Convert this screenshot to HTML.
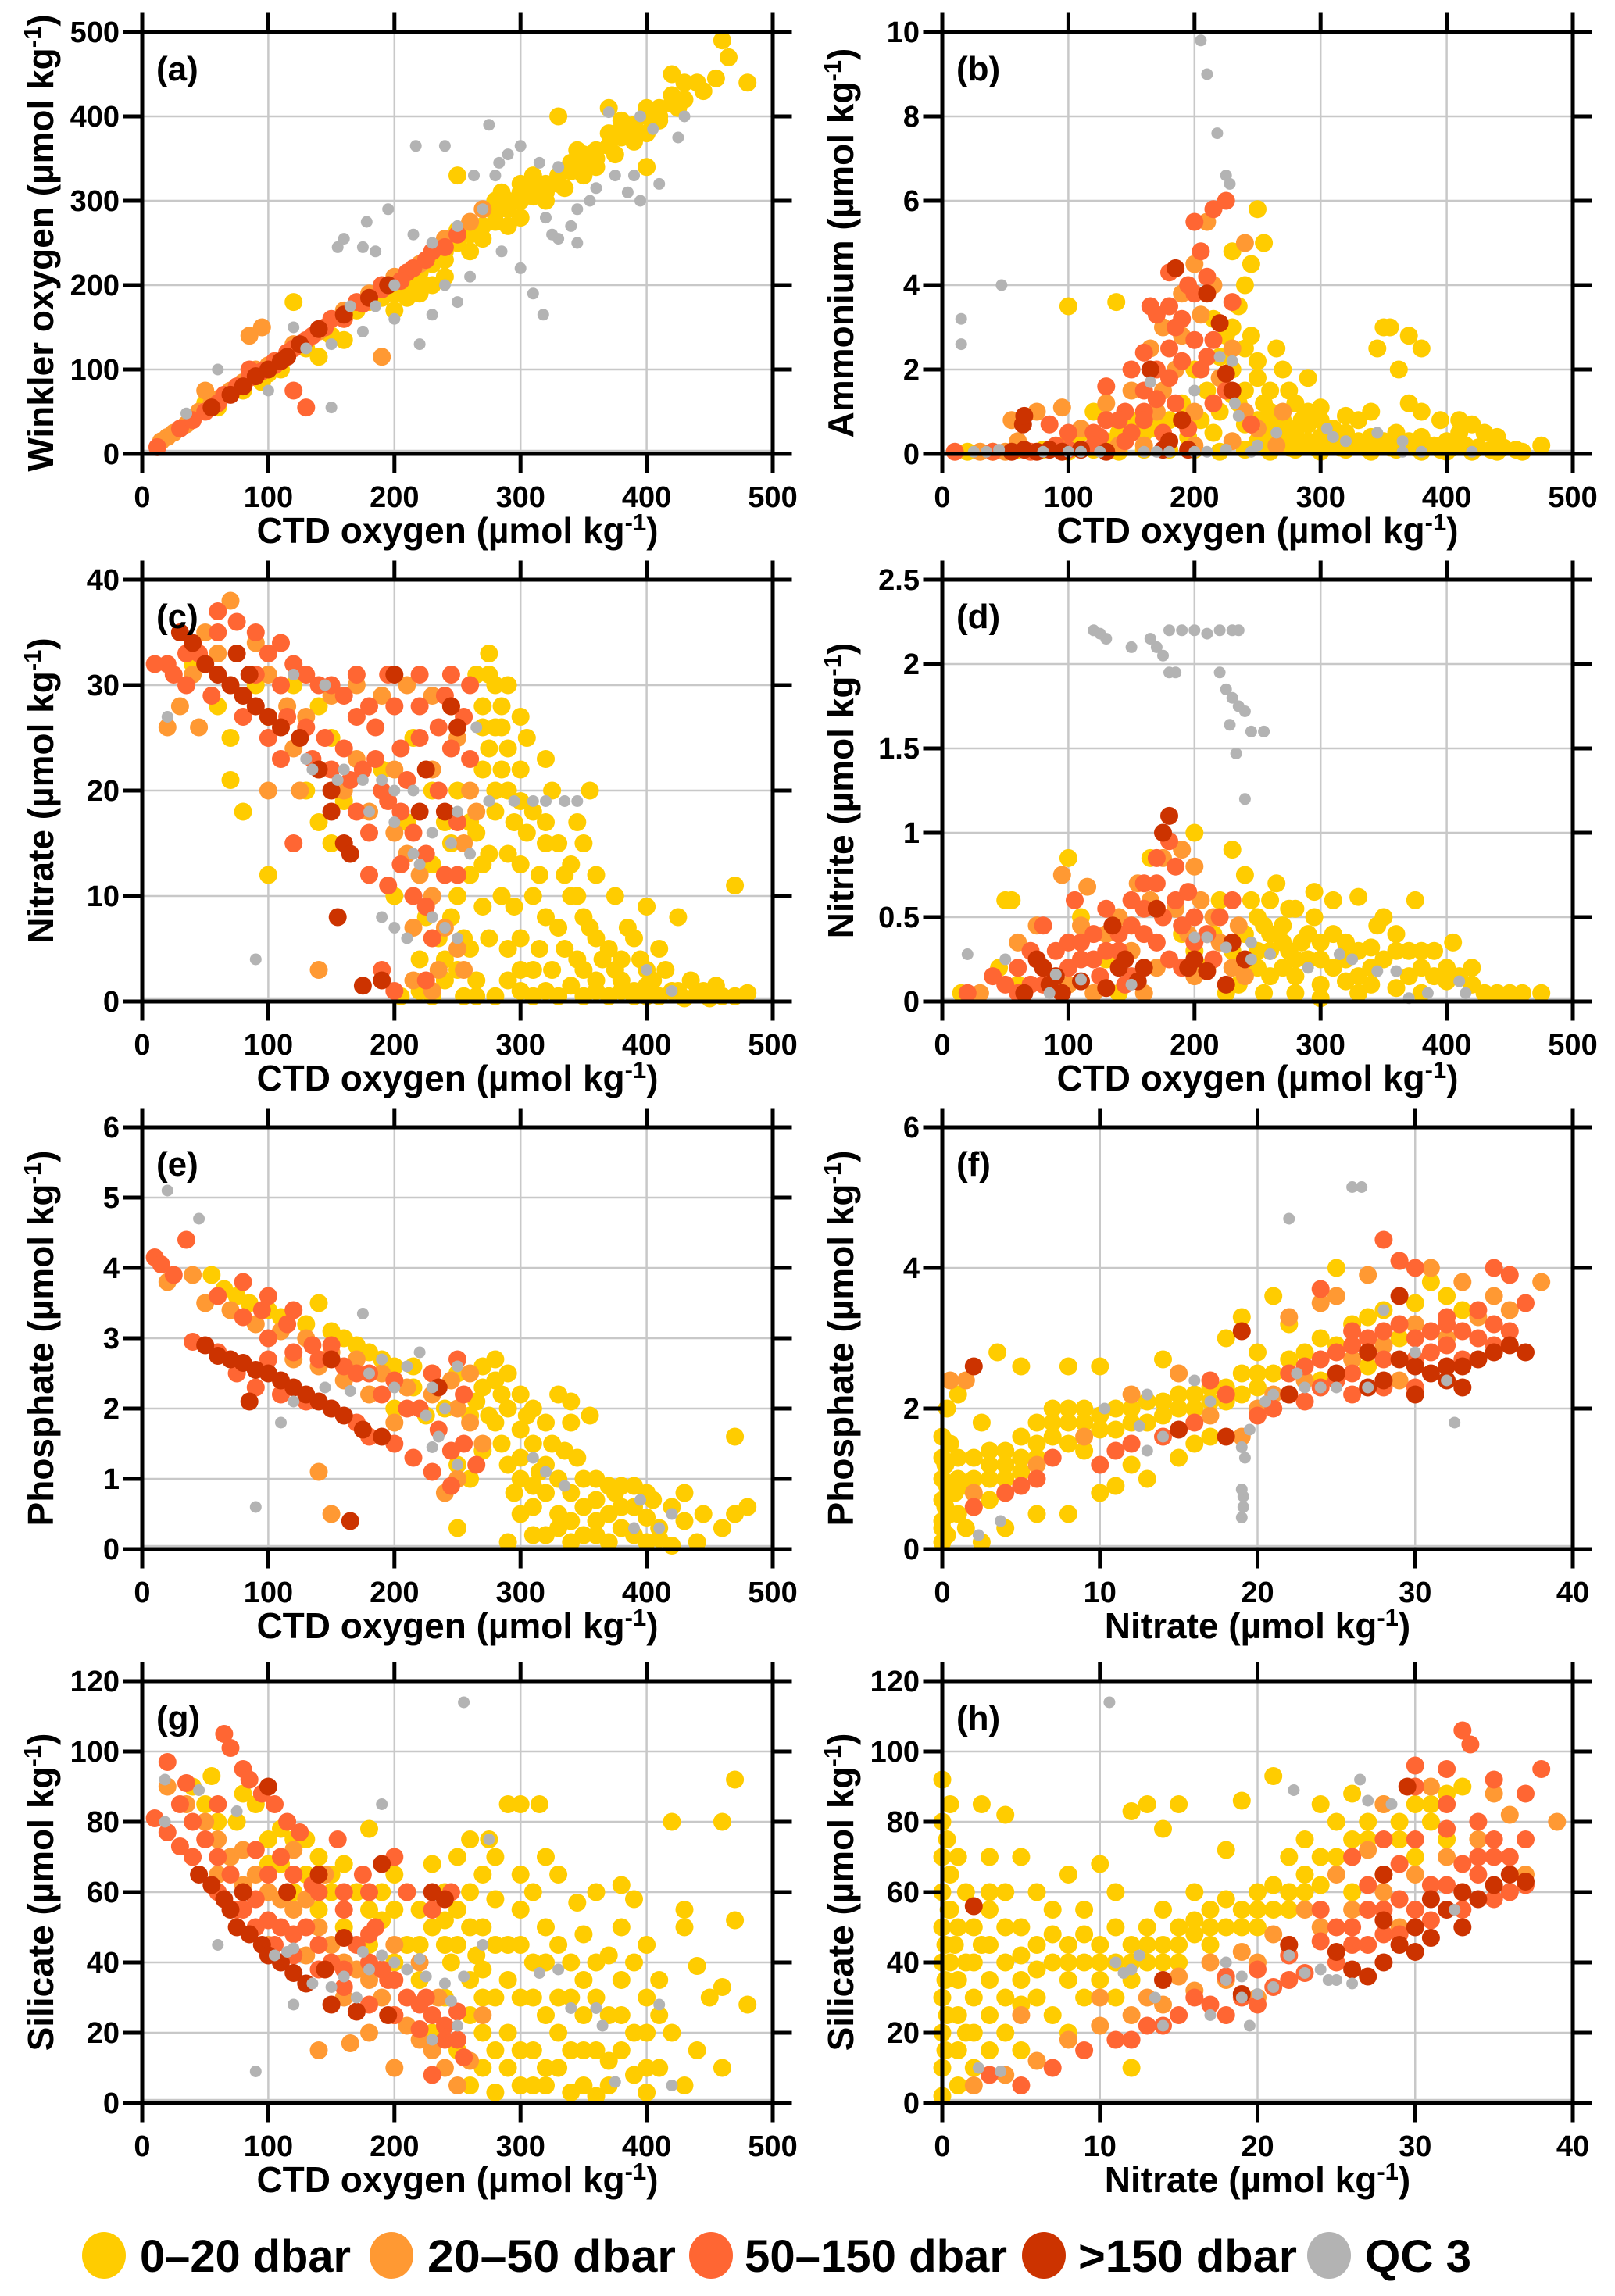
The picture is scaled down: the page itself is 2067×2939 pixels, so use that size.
<!DOCTYPE html>
<html><head><meta charset="utf-8"><title>Oxygen and nutrient scatter panels</title>
<style>html,body{margin:0;padding:0;background:#fff}svg{display:block}text{font-family:"Liberation Sans",sans-serif;font-weight:bold;fill:#000}</style>
</head><body>
<svg id="chart" xmlns="http://www.w3.org/2000/svg" width="2067" height="2939" viewBox="0 0 2067 2939">
<g id="legend">
<ellipse cx="133" cy="2887" rx="28" ry="30" fill="#FFCC00"/>
<text x="179" y="2908" font-size="58" textLength="270" lengthAdjust="spacingAndGlyphs">0–20 dbar</text>
<ellipse cx="501" cy="2887" rx="28" ry="30" fill="#FF9933"/>
<text x="547" y="2908" font-size="58" textLength="318" lengthAdjust="spacingAndGlyphs">20–50 dbar</text>
<ellipse cx="910" cy="2887" rx="28" ry="30" fill="#FF6633"/>
<text x="953" y="2908" font-size="58" textLength="336" lengthAdjust="spacingAndGlyphs">50–150 dbar</text>
<ellipse cx="1336" cy="2887" rx="28" ry="30" fill="#CC3300"/>
<text x="1380" y="2908" font-size="58" textLength="280" lengthAdjust="spacingAndGlyphs">&gt;150 dbar</text>
<ellipse cx="1701" cy="2887" rx="28" ry="30" fill="#B3B3B3"/>
<text x="1747" y="2908" font-size="58" textLength="136" lengthAdjust="spacingAndGlyphs">QC 3</text>
</g>
</svg>
<script>
const aYellow=[[50,60],[60,55],[80,75],[100,95],[110,100],[130,125],[150,140],[160,160],[170,170],[180,180],[190,185],[200,200],[210,200],[220,215],[230,225],[240,240],[250,250],[260,260],[270,270],[280,285],[290,290],[300,300],[310,305],[320,320],[330,330],[340,335],[350,345],[360,360],[370,365],[380,375],[390,390],[400,400],[410,410],[420,425],[430,440],[440,440],[460,490],[465,470],[480,440],[455,445],[420,450],[300,320],[280,300],[320,300],[350,330],[260,240],[240,210],[200,170],[220,190],[380,395],[400,380],[330,400],[370,410],[250,330],[120,180],[400,340],[345,360],[310,330],[290,270],[270,255],[285,310],[300,280],[335,315],[360,340],[375,355],[390,370],[410,395],[425,410],[445,430],[230,200],[210,185],[250,265],[95,85],[140,115],[160,135]];
const aYellowDense=[[300,310],[310,315],[320,310],[330,320],[340,345],[350,355],[360,350],[370,380],[380,385],[390,380],[400,410],[410,400],[420,415],[430,420],[290,300],[280,275],[260,270],[240,230],[220,205],[200,190]];
const aOrange=[[15,15],[20,20],[25,25],[35,35],[45,50],[55,60],[60,65],[70,75],[80,85],[90,100],[95,150],[100,105],[120,130],[140,145],[160,170],[180,190],[190,115],[200,210],[220,225],[240,255],[260,275],[270,290],[50,75],[85,140]];
const aRed=[[12,8],[30,30],[40,40],[60,60],[75,80],[90,95],[105,110],[120,125],[135,140],[150,160],[170,180],[190,200],[210,215],[230,240],[250,260],[120,75],[130,55],[85,100]];
const aRedDense=[[50,50],[65,70],[85,90],[95,98],[105,105],[115,120],[130,135],[145,150],[160,160],[175,178],[190,195],[205,205],[215,220],[225,230],[240,245]];
const aDark=[[55,55],[70,70],[80,80],[90,92],[100,100],[110,110],[115,115],[125,130],[140,148],[160,165],[180,185],[195,200]];
const aGray=[[217,365],[155,245],[160,255],[185,240],[178,275],[195,290],[175,245],[215,260],[240,365],[275,390],[283,345],[300,365],[290,355],[263,330],[280,330],[315,345],[200,160],[220,130],[150,55],[100,75],[60,100],[35,48],[175,145],[230,165],[250,180],[285,240],[300,220],[310,190],[318,165],[330,255],[345,250],[345,290],[355,300],[360,315],[375,330],[385,310],[390,330],[395,300],[410,320],[425,375],[430,400],[405,385],[395,400],[370,405],[330,340],[260,210],[240,200],[230,250],[250,270],[270,290],[200,200],[185,175],[165,175],[130,125],[150,130],[120,150],[320,280],[340,270],[325,260]];

const bYellow=[[20,0.05],[40,0.05],[60,0.1],[80,0.1],[100,0.05],[120,0.1],[140,0.05],[160,0.1],[180,0.1],[200,0.1],[220,0.05],[240,0.1],[260,0.05],[280,0.1],[300,0.05],[320,0.1],[340,0.05],[360,0.1],[380,0.05],[400,0.05],[420,0.05],[440,0.05],[460,0.05],[475,0.2],[250,0.3],[260,0.4],[270,0.3],[280,0.5],[290,0.3],[300,0.4],[310,0.3],[320,0.5],[330,0.3],[340,0.4],[350,0.3],[360,0.5],[370,0.3],[380,0.4],[390,0.2],[400,0.3],[410,0.5],[250,0.8],[260,1.0],[270,0.8],[280,1.2],[290,1.0],[300,0.8],[310,0.6],[320,0.9],[240,1.5],[250,1.8],[260,1.5],[270,2.0],[250,2.2],[240,2.5],[230,3.0],[235,3.5],[240,4.0],[245,4.5],[255,5.0],[250,5.8],[230,4.8],[220,1.0],[210,1.5],[200,2.0],[190,1.2],[180,0.8],[170,0.6],[160,0.5],[150,0.8],[140,0.5],[130,0.3],[120,1.0],[110,0.5],[100,0.3],[100,3.5],[138,3.6],[345,2.5],[350,3.0],[355,3.0],[370,2.8],[380,2.5],[362,2.0],[370,1.2],[380,1.0],[340,1.0],[330,0.8],[395,0.8],[410,0.8],[420,0.7],[430,0.5],[440,0.4],[260,0.6],[225,2.8],[230,2.0],[220,2.3],[215,0.5],[235,1.2],[275,1.5],[290,1.8],[290,0.7],[215,3.2],[195,0.4],[205,0.8]];
const bYellowDense=[[255,0.15],[265,0.2],[275,0.15],[285,0.2],[295,0.15],[305,0.2],[315,0.15],[325,0.2],[335,0.15],[345,0.2],[355,0.15],[365,0.2],[375,0.15],[385,0.2],[395,0.1],[405,0.15],[415,0.2],[425,0.15],[435,0.1],[445,0.15],[455,0.1],[265,0.9],[285,0.8],[300,1.1],[275,0.6],[240,0.7],[230,1.4],[245,2.8],[255,1.2],[265,2.5]];
const bOrange=[[30,0.05],[50,0.05],[60,0.3],[55,0.8],[75,1.0],[95,1.1],[110,0.6],[130,1.2],[150,1.5],[165,2.5],[175,3.0],[190,3.8],[200,4.5],[210,5.5],[205,3.3],[185,2.0],[200,1.0],[220,1.8],[230,2.5],[240,1.0],[250,0.6],[170,1.0],[160,0.2],[140,0.2],[180,0.3],[200,0.2],[215,4.0],[240,5.0],[230,0.3],[265,0.2],[270,1.0],[190,2.8],[175,1.5]];
const bRed=[[10,0.05],[40,0.05],[70,0.05],[85,0.7],[100,0.5],[125,0.4],[130,0.8],[145,1.0],[160,1.5],[170,2.0],[180,2.5],[170,3.3],[190,3.2],[200,3.8],[210,4.2],[180,4.3],[205,4.8],[200,5.5],[215,5.8],[225,6.0],[130,1.6],[150,2.0],[165,3.5],[185,1.2],[195,0.6],[210,2.3],[225,1.5],[230,3.6],[245,0.7],[120,0.5],[145,0.3],[160,2.4],[175,0.5]];
const bRedDense=[[150,0.5],[160,1.0],[170,1.3],[180,1.8],[190,2.2],[200,2.7],[180,3.5],[195,4.0],[185,3.0],[205,2.0],[215,2.7],[160,0.8],[140,0.8],[120,0.2],[100,0.1],[90,0.2],[215,1.2]];
const bDark=[[55,0.05],[65,0.1],[75,0.05],[85,0.1],[95,0.05],[110,0.1],[130,0.05],[175,0.1],[195,0.1],[64,0.7],[65,0.9],[165,2.0],[185,4.4],[190,0.8],[225,1.9],[230,1.5],[220,3.1],[210,3.8],[180,0.3]];
const bGray=[[205,9.8],[210,9.0],[218,7.6],[225,6.6],[228,6.4],[47,4.0],[15,3.2],[15,2.6],[220,2.3],[230,2.2],[165,1.7],[200,1.5],[235,0.9],[232,1.2],[25,0.05],[35,0.05],[45,0.1],[80,0.05],[100,0.05],[110,0.05],[125,0.05],[160,0.05],[170,0.05],[180,0.05],[200,0.05],[210,0.05],[225,0.1],[245,0.05],[250,0.2],[265,0.5],[305,0.6],[310,0.4],[320,0.3],[345,0.5],[365,0.3],[365,0.05],[380,0.05],[420,0.05]];

const cYellow=[[265,31],[275,31],[280,30],[270,28],[285,28],[280,26],[275,24],[285,22],[270,22],[290,20],[300,19],[280,18],[295,17],[305,16],[290,14],[300,13],[315,12],[310,10],[295,9],[320,8],[330,7],[300,6],[315,5],[335,5],[345,4],[325,3],[350,3],[360,2],[380,2],[400,1.5],[420,1],[440,0.8],[460,0.5],[470,0.5],[480,0.8],[300,1],[280,0.5],[290,2],[310,0.5],[330,0.5],[350,0.5],[370,0.5],[390,0.5],[410,0.5],[430,0.3],[450,0.3],[340,10],[350,8],[360,6],[370,5],[380,4],[390,6],[400,3],[410,5],[360,12],[375,10],[340,13],[330,15],[325,20],[320,23],[305,25],[300,27],[290,30],[275,33],[260,12],[250,10],[245,15],[240,17],[230,20],[215,25],[260,5],[250,3],[240,2],[220,1],[205,0.5],[230,0.5],[270,9],[265,2],[200,10],[190,22],[150,25],[140,28],[120,30],[90,30],[40,32],[60,28],[70,25],[100,27],[100,12],[80,18],[70,21],[130,20],[140,17],[150,15],[160,19],[210,17],[400,9],[425,8],[470,11],[310,3],[320,15],[345,17],[355,20],[245,8],[255,6],[235,6],[350,15],[220,4],[390,1]];
const cYellowDense=[[270,26],[280,20],[275,14],[285,10],[290,5],[300,3],[320,1],[340,1.5],[360,1],[380,1],[400,0.5],[265,16],[275,6],[285,26],[290,24],[300,22],[310,18],[320,17],[335,12],[345,10],[355,7],[365,4],[375,3],[385,7],[395,4],[405,2],[415,3],[425,1],[435,2],[445,1],[455,1.5],[270,13],[260,17],[250,20],[255,0.5],[265,0.5],[240,4],[225,8],[230,13]];
const cOrange=[[70,38],[50,35],[60,33],[40,31],[30,28],[20,26],[45,26],[70,30],[90,34],[100,31],[115,28],[130,27],[150,29],[170,30],[190,29],[210,30],[230,29],[245,28],[120,24],[140,22],[160,20],[180,18],[200,16],[210,14],[220,12],[230,10],[240,7],[250,5],[255,3],[235,3],[100,20],[125,20],[140,3],[215,7],[260,20],[250,25],[230,22],[200,22],[170,23],[215,2],[230,1],[255,15],[265,18]];
const cRed=[[60,37],[75,36],[90,35],[100,33],[20,32],[10,32],[35,30],[55,29],[80,27],[110,30],[130,31],[150,30],[170,31],[195,31],[220,31],[245,31],[260,30],[130,26],[145,25],[160,24],[175,22],[190,20],[205,18],[215,16],[225,14],[205,24],[235,20],[245,24],[255,27],[120,15],[190,3],[200,1],[230,6],[180,12],[195,11],[225,2],[250,17],[260,23],[170,27],[185,26]];
const cRedDense=[[110,34],[120,32],[140,30],[160,29],[180,28],[200,28],[220,28],[240,29],[115,27],[135,23],[150,22],[165,21],[185,23],[195,19],[210,21],[220,25],[235,26],[205,13],[215,10],[225,9],[240,12],[250,12],[180,16],[170,18],[60,35],[45,33],[35,33],[25,31],[90,31],[100,25],[110,23]];
const cDark=[[30,35],[40,34],[50,32],[60,31],[70,30],[80,29],[90,28],[100,27],[75,33],[85,31],[110,26],[125,25],[140,22],[150,20],[160,15],[165,14],[200,31],[245,28],[250,26],[220,18],[150,18],[155,8],[175,1.5],[190,2],[225,22],[240,18]];
const cGray=[[20,27],[90,4],[145,30],[120,31],[130,23],[135,22],[155,21],[160,22],[175,21],[190,21],[200,20],[215,20],[180,18],[200,17],[215,14],[220,13],[230,16],[245,15],[250,18],[265,26],[260,14],[190,8],[200,7],[210,6],[230,8],[240,7],[250,6],[275,19],[295,19],[310,19],[320,19],[335,19],[345,19],[420,1],[400,3]];

const dYellow=[[50,0.6],[55,0.6],[100,0.85],[110,0.5],[165,0.85],[200,1.0],[230,0.9],[245,0.6],[260,0.6],[250,0.5],[220,0.6],[215,0.4],[190,0.4],[200,0.3],[210,0.2],[230,0.3],[240,0.4],[250,0.3],[260,0.4],[270,0.45],[275,0.3],[285,0.35],[295,0.5],[300,0.25],[310,0.4],[320,0.35],[330,0.3],[340,0.32],[350,0.5],[360,0.4],[370,0.3],[380,0.2],[390,0.3],[400,0.12],[410,0.15],[420,0.1],[440,0.05],[460,0.05],[475,0.05],[260,0.15],[280,0.15],[300,0.1],[320,0.12],[340,0.1],[360,0.08],[380,0.05],[280,0.05],[300,0.02],[330,0.05],[255,0.05],[235,0.1],[265,0.7],[280,0.55],[310,0.6],[330,0.62],[345,0.45],[375,0.6],[405,0.35],[270,0.2],[290,0.25],[240,0.75],[150,0.45],[130,0.25],[60,0.1],[15,0.05],[45,0.2],[140,0.05],[225,0.05]];
const dYellowDense=[[250,0.2],[260,0.3],[270,0.35],[280,0.25],[290,0.4],[300,0.35],[310,0.2],[320,0.25],[330,0.15],[340,0.2],[350,0.25],[360,0.3],[370,0.15],[380,0.3],[390,0.15],[400,0.2],[420,0.2],[430,0.05],[450,0.05],[255,0.45],[275,0.55],[295,0.65]];
const dOrange=[[100,0.1],[60,0.35],[30,0.05],[75,0.45],[95,0.75],[115,0.68],[110,0.45],[140,0.5],[155,0.7],[175,0.85],[190,0.9],[200,0.8],[165,0.6],[185,0.55],[195,0.4],[150,0.3],[130,0.4],[200,0.15],[220,0.35],[230,0.2],[240,0.15],[170,0.2],[120,0.05],[160,0.05],[205,0.6],[215,0.5],[80,0.2],[235,0.45]];
const dRed=[[20,0.05],[50,0.1],[70,0.3],[80,0.45],[90,0.3],[110,0.25],[120,0.4],[130,0.55],[150,0.6],[160,0.7],[170,0.85],[180,0.95],[185,0.8],[140,0.3],[160,0.4],[180,0.25],[190,0.2],[145,0.1],[60,0.05],[100,0.35],[200,0.5],[215,0.25],[230,0.6],[105,0.6],[125,0.15],[175,0.5],[40,0.15]];
const dRedDense=[[60,0.2],[70,0.1],[80,0.1],[100,0.2],[110,0.35],[120,0.25],[130,0.3],[140,0.4],[150,0.45],[160,0.55],[170,0.7],[185,0.6],[195,0.65],[210,0.4],[220,0.5],[200,0.35],[190,0.45],[150,0.15],[170,0.35]];
const dDark=[[180,1.1],[175,1.0],[75,0.25],[80,0.2],[90,0.15],[85,0.1],[95,0.05],[65,0.05],[110,0.12],[130,0.08],[140,0.2],[145,0.25],[155,0.12],[195,0.2],[200,0.25],[210,0.18],[230,0.35],[240,0.25],[225,0.1],[170,0.55],[160,0.2],[135,0.45]];
const dGray=[[120,2.2],[125,2.18],[130,2.15],[150,2.1],[165,2.15],[180,2.2],[190,2.2],[200,2.2],[210,2.18],[220,2.2],[230,2.2],[235,2.2],[180,1.95],[185,1.95],[170,2.1],[175,2.05],[220,1.95],[225,1.85],[230,1.8],[235,1.75],[240,1.72],[245,1.6],[255,1.6],[228,1.64],[233,1.47],[240,1.2],[20,0.28],[50,0.25],[90,0.16],[110,0.13],[150,0.1],[200,0.38],[210,0.38],[225,0.32],[245,0.35],[245,0.25],[260,0.28],[290,0.2],[315,0.28],[325,0.25],[345,0.18],[360,0.18],[370,0.02],[385,0.05],[410,0.12],[415,0.05],[85,0.05]];

const eYellow=[[55,3.9],[65,3.7],[75,3.6],[85,3.5],[100,3.4],[110,3.3],[130,3.2],[140,3.5],[150,3.1],[160,3.0],[170,2.9],[180,2.8],[190,2.7],[200,2.6],[215,2.6],[230,2.5],[250,2.5],[270,2.6],[280,2.7],[270,2.3],[285,2.2],[290,2.0],[280,1.8],[300,1.7],[310,1.5],[300,1.3],[320,1.2],[330,1.0],[310,0.9],[340,0.8],[350,0.6],[330,0.5],[360,0.4],[370,0.5],[380,0.3],[390,0.2],[400,0.1],[410,0.3],[420,0.05],[440,0.1],[460,0.3],[470,0.5],[480,0.6],[470,1.6],[360,1.0],[375,0.8],[345,1.3],[340,1.8],[325,1.5],[300,0.5],[310,0.2],[290,0.1],[350,0.2],[250,0.3],[270,1.4],[260,1.9],[240,2.0],[225,1.9],[200,2.0],[215,2.3],[340,2.1],[355,1.9],[330,2.2],[260,1.0],[250,1.2],[390,0.6],[405,0.7],[430,0.4],[445,0.5],[400,0.45],[290,2.5],[300,2.2],[310,2.0],[320,1.8],[335,1.4],[360,0.7],[380,0.9],[430,0.8]];
const eYellowDense=[[290,1.2],[300,1.0],[320,0.8],[330,0.3],[340,0.4],[350,1.0],[360,0.2],[370,0.9],[380,0.6],[390,0.9],[400,0.8],[410,0.15],[420,0.6],[320,0.2],[285,1.5],[295,0.8],[310,0.6],[340,0.1],[370,0.1],[265,2.1],[275,1.9],[280,2.4],[305,1.9],[315,1.1]];
const eOrange=[[20,3.8],[40,3.9],[50,3.5],[70,3.4],[90,3.2],[110,3.1],[130,3.0],[150,2.8],[170,2.7],[190,2.5],[210,2.3],[230,2.2],[250,2.0],[260,1.8],[270,1.5],[250,1.0],[240,0.8],[140,1.1],[150,0.5],[120,2.7],[140,2.6],[160,2.4],[180,2.2],[200,1.8],[260,2.5],[245,2.4]];
const eRed=[[10,4.15],[15,4.05],[25,3.9],[35,4.4],[80,3.8],[100,3.6],[120,3.4],[75,2.5],[90,2.3],[110,2.2],[130,2.1],[150,2.0],[170,1.8],[180,1.6],[200,1.5],[215,1.3],[230,1.1],[245,0.9],[190,2.2],[210,2.0],[230,2.5],[250,2.7],[170,2.5],[150,2.9],[60,2.8],[40,2.95],[100,2.7],[265,1.2],[255,1.5]];
const eRedDense=[[60,3.6],[80,3.3],[100,3.0],[120,2.8],[140,2.7],[160,2.6],[180,2.5],[200,2.4],[220,2.0],[235,1.7],[245,1.4],[255,2.2],[95,3.4],[115,3.2],[135,2.9]];
const eDark=[[50,2.9],[60,2.75],[70,2.7],[80,2.65],[90,2.55],[100,2.5],[110,2.4],[120,2.3],[130,2.2],[140,2.1],[150,2.0],[160,1.9],[175,1.7],[190,1.6],[85,2.1],[165,0.4],[235,2.3],[150,2.7]];
const eGray=[[20,5.1],[45,4.7],[175,3.35],[90,0.6],[110,1.8],[120,2.1],[145,2.3],[165,2.25],[180,2.5],[190,2.7],[210,2.6],[220,2.8],[200,2.3],[230,2.3],[225,1.9],[235,1.6],[230,1.45],[250,1.2],[240,2.0],[250,2.6],[310,1.3],[320,1.1],[335,0.9],[395,0.7],[390,0.3],[420,0.5],[410,0.3]];

const fYellow=[[0,0.1],[0,0.4],[0,0.7],[0,1.0],[0,1.3],[0,1.6],[0.3,0.2],[0.5,0.5],[0.8,0.8],[1,1],[1,1.3],[1.5,0.3],[2,0.6],[2,1.0],[2.5,0.1],[3,0.7],[3,1.2],[4,1.0],[4,1.4],[5,1.1],[5,1.6],[6,1.3],[6,1.8],[7,1.6],[7,2.0],[8,1.5],[8,2.0],[9,1.8],[9,1.4],[10,1.7],[11,2.0],[12,1.8],[12,1.2],[13,2.1],[14,1.9],[15,2.0],[16,2.2],[17,2.3],[18,2.1],[19,2.5],[20,2.3],[21,2.5],[22,2.7],[23,2.8],[24,3.0],[25,2.9],[26,3.2],[27,3.3],[28,3.4],[30,3.5],[32,3.6],[33,3.4],[31,3.8],[25,4.0],[21,3.6],[19,3.3],[18,3.0],[5,2.6],[8,2.6],[10,2.6],[3.5,2.8],[14,2.7],[16,1.5],[13,1.0],[10,0.8],[6,0.5],[4,0.3],[8,0.5],[11,0.9],[15,1.3],[17,1.6],[2.5,1.8],[1,2.2],[0.3,2.0],[3,1.4],[20,2.8],[22,3.2],[29,3.0],[27,2.6],[24,2.4]];
const fYellowDense=[[0,0.3],[0.2,0.6],[0.3,0.9],[0.2,1.2],[0.5,1.5],[1,0.5],[1.5,0.9],[2,1.3],[3,1.0],[4,1.2],[5,1.3],[6,1.5],[7,1.8],[8,1.8],[9,2.0],[10,1.9],[11,1.7],[12,2.0],[13,1.8],[14,2.1],[15,2.2],[16,2.0],[17,2.1],[18,2.3],[19,2.2],[20,2.5]];
const fOrange=[[0.5,2.4],[1.5,2.4],[2,0.8],[6,1.2],[9,1.6],[12,2.2],[15,2.5],[17,1.9],[19,1.6],[21,2.2],[23,2.4],[24,3.5],[25,3.6],[27,3.9],[29,4.1],[31,4.0],[33,3.8],[35,3.6],[38,3.8],[26,2.7],[28,2.9],[30,3.2],[32,3.0],[34,3.3],[36,3.4],[22,3.3],[20,2.0],[29,2.4]];
const fRed=[[2,0.6],[4,0.8],[5,0.9],[6,1.0],[7,1.3],[10,1.2],[11,1.4],[12,1.5],[14,1.6],[16,1.8],[17,2.4],[18,2.2],[20,1.9],[21,2.0],[22,2.2],[23,2.1],[24,2.3],[25,2.4],[26,2.2],[28,2.3],[30,2.3],[31,2.8],[33,2.7],[35,2.9],[36,3.1],[37,3.5],[36,3.9],[35,4.0],[30,4.0],[29,4.1],[28,4.4],[24,3.7],[26,3.1],[32,3.3],[34,3.4]];
const fRedDense=[[22,2.5],[23,2.6],[24,2.7],[25,2.8],[26,2.9],[27,3.0],[28,3.1],[29,3.2],[30,3.0],[31,3.1],[32,3.2],[33,3.1],[34,3.0],[35,3.2],[26,2.5],[28,2.7],[30,2.7],[32,2.9]];
const fDark=[[2,2.6],[19,3.1],[22,2.2],[25,2.5],[27,2.3],[28,2.4],[29,2.7],[30,2.6],[31,2.5],[32,2.6],[33,2.6],[34,2.7],[35,2.8],[36,2.9],[37,2.8],[30,2.2],[32,2.4],[27,2.8],[18,1.6],[15,1.7],[33,2.3],[29,3.6]];
const fGray=[[26,5.15],[26.6,5.15],[22,4.7],[19,0.45],[19.1,0.6],[19.1,0.75],[19,0.85],[19.2,1.3],[19,1.45],[19.5,1.7],[20.5,2.1],[21,2.2],[23,2.3],[22.5,2.5],[24,2.3],[25,2.3],[27,2.3],[30,2.8],[32,2.4],[32.5,1.8],[16,2.4],[17,2.1],[13,2.2],[10.3,2.0],[12.5,1.75],[14,1.6],[13,1.4],[2.3,0.2],[3.7,0.4],[28,3.4]];

const gYellow=[[40,90],[55,93],[50,85],[60,80],[75,80],[80,88],[90,85],[100,75],[110,78],[130,75],[140,70],[150,65],[160,68],[170,60],[180,78],[200,65],[210,60],[190,52],[220,55],[240,60],[250,70],[260,75],[275,75],[280,70],[290,85],[300,85],[320,70],[330,65],[345,57],[360,60],[380,62],[400,45],[430,55],[460,80],[470,52],[480,28],[440,39],[460,33],[430,50],[410,35],[390,40],[370,42],[350,48],[330,45],[310,40],[290,45],[270,50],[250,55],[230,50],[210,45],[200,40],[220,35],[240,30],[260,35],[280,30],[300,30],[320,25],[340,30],[360,30],[380,25],[400,20],[420,20],[440,15],[460,10],[430,5],[410,10],[390,8],[370,12],[350,15],[330,10],[310,15],[290,20],[270,20],[300,5],[320,5],[340,3],[360,2],[280,3],[260,5],[250,15],[230,20],[260,60],[240,45],[280,58],[300,55],[320,50],[300,65],[270,65],[230,68],[160,50],[180,45],[140,55],[120,60],[120,75],[100,68],[400,3],[410,25],[350,35],[310,60],[265,42],[245,40],[380,50],[470,92],[420,80],[315,85],[270,38],[390,58],[450,30]];
const gYellowDense=[[280,45],[290,35],[300,45],[310,30],[320,40],[330,30],[340,40],[350,25],[360,40],[370,25],[380,35],[390,20],[400,30],[290,10],[310,5],[330,20],[350,5],[370,5],[270,10],[280,15],[300,15],[320,10],[340,15],[360,15],[380,15],[400,10],[260,25],[270,30],[250,45],[260,50],[240,52],[220,45],[200,55],[190,60],[180,55],[150,60],[130,65],[110,68]];
const gOrange=[[20,90],[35,85],[50,80],[60,75],[70,70],[80,72],[90,65],[100,60],[110,58],[120,55],[130,58],[140,50],[150,45],[160,40],[170,38],[180,35],[190,30],[200,25],[210,22],[220,18],[230,15],[240,10],[250,5],[140,15],[165,17],[80,62],[60,65],[100,45],[130,42],[160,30],[200,45],[220,40],[235,30],[260,12],[180,20],[145,65],[120,72],[200,10],[270,25]];
const gRed=[[10,81],[20,97],[35,91],[65,105],[70,101],[80,95],[85,92],[95,88],[105,85],[115,80],[125,77],[20,77],[30,73],[60,60],[75,55],[90,50],[105,45],[120,42],[140,38],[160,33],[180,28],[200,25],[220,21],[240,18],[255,13],[110,70],[135,62],[160,55],[185,50],[210,60],[180,60],[230,55],[245,60],[60,85],[40,70],[225,30],[250,26],[195,35],[230,8],[90,72],[155,75],[175,65],[200,70]];
const gRedDense=[[30,85],[40,80],[50,75],[60,70],[70,65],[80,55],[90,58],[100,52],[110,50],[120,48],[130,50],[140,45],[150,40],[160,38],[170,45],[180,40],[190,38],[200,35],[210,30],[220,28],[230,25],[240,22],[250,18],[100,65],[120,65],[140,60],[160,60],[180,48]];
const gDark=[[45,65],[55,62],[65,58],[70,55],[75,50],[85,48],[95,45],[100,42],[110,40],[120,37],[130,34],[145,38],[150,28],[170,26],[195,25],[80,60],[100,90],[160,47],[230,60],[240,58],[140,65],[115,60],[190,68]];
const gGray=[[255,114],[18,92],[18,80],[45,89],[190,85],[90,9],[105,42],[115,43],[120,44],[135,34],[150,33],[160,36],[170,30],[175,43],[180,38],[190,42],[200,40],[210,38],[220,41],[225,36],[240,34],[245,29],[250,22],[230,18],[255,36],[270,45],[275,75],[315,37],[330,38],[340,27],[360,27],[365,22],[410,28],[420,5],[375,6],[60,45],[120,28],[75,83]];

const hYellow=[[0,2],[0,10],[0,20],[0,30],[0,40],[0,50],[0,60],[0,70],[0,80],[0,92],[0.5,85],[0.3,75],[0.5,65],[0.5,55],[0.8,45],[1,35],[1,25],[1,15],[1,5],[1.5,60],[2,50],[2,40],[2,30],[2,20],[2,10],[2.5,85],[3,70],[3,55],[3,45],[3,35],[3,25],[3,15],[4,82],[4,60],[4,40],[4,30],[4,20],[5,70],[5,50],[5,35],[6,45],[6,30],[6,60],[7,40],[7,25],[7,55],[8,35],[8,45],[8,65],[9,30],[9,40],[9,55],[10,35],[10,45],[10,68],[11,40],[11,30],[11,60],[12,45],[12,83],[12,35],[13,50],[13,40],[13,85],[14,45],[14,55],[14,78],[15,40],[15,50],[15,85],[16,48],[16,60],[17,45],[17,55],[18,50],[18,72],[19,55],[19,86],[20,60],[20,50],[21,55],[21,93],[22,60],[22,70],[23,65],[23,75],[24,70],[24,85],[25,80],[26,75],[26,88],[27,80],[28,85],[29,75],[30,85],[31,80],[32,88],[33,90],[30,70],[28,65],[26,60],[12,10],[5,15],[8,20],[1,70],[0.5,40],[32,75]];
const hYellowDense=[[0.2,15],[0.3,25],[0.2,35],[0.2,45],[0.4,55],[1,50],[1.5,40],[1.5,20],[2.5,45],[3,60],[4,50],[5,42],[5,28],[6,38],[7,48],[8,40],[9,48],[10,40],[11,50],[12,40],[13,45],[14,40],[15,45],[16,52],[17,50],[18,58],[19,50],[20,55],[21,62],[22,55],[23,60],[24,62],[25,70],[27,75],[29,80],[31,85]];
const hOrange=[[2,5],[4,8],[6,12],[8,18],[10,22],[12,25],[14,28],[16,32],[18,35],[20,40],[22,45],[24,50],[26,55],[28,60],[30,65],[32,70],[34,75],[36,82],[39,80],[35,88],[31,90],[27,72],[25,65],[23,55],[21,48],[19,43],[17,40],[15,36],[13,30],[29,50],[33,60],[37,65],[28,85],[20,30],[10,30],[5,25]];
const hRed=[[3,8],[5,5],[7,10],[9,15],[11,18],[13,22],[15,25],[17,28],[19,30],[21,33],[23,37],[25,40],[27,45],[29,48],[31,52],[33,55],[35,58],[37,62],[37,75],[36,70],[34,80],[32,85],[30,90],[30,96],[32,95],[33,106],[33.5,102],[38,95],[37,88],[35,70],[28,55],[26,50],[24,46],[22,42],[20,38],[18,36],[16,30],[14,22],[12,18],[26,70],[28,75],[18,25],[20,28],[22,35],[35,92]];
const hRedDense=[[25,50],[27,55],[29,58],[31,62],[33,68],[35,75],[36,60],[34,65],[32,78],[30,75],[29,68],[27,62],[24,55],[26,45],[28,48],[30,55],[32,62],[34,70]];
const hDark=[[2,56],[25,43],[26,38],[27,36],[28,40],[29,45],[30,50],[31,47],[32,55],[33,60],[34,58],[35,62],[36,65],[37,63],[30,43],[31,58],[28,52],[33,50],[22,45],[14,35],[19,31],[29.5,90],[28,65]];
const hGray=[[10.6,114],[22.3,89],[26.5,92],[27,86],[28.5,85],[2.3,10],[3.7,9],[11,40],[11.5,37],[12,38],[12.5,42],[13.5,30],[14,22],[17,25],[18,40],[18,35],[19,36],[19,30],[19.5,22],[20,31],[21,33],[22,42],[23,37],[24,38],[24.5,35],[25,35],[26,34],[32.5,55]];

const oxyTicks=[0,100,200,300,400,500];
const nitTicks=[0,10,20,30,40];
const winklerTicks=[0,100,200,300,400,500];
const ammTicks=[0,2,4,6,8,10];
const nitrateTicks=[0,10,20,30,40];
const nitriteTicks=[0,0.5,1,1.5,2,2.5];
const phosTicksE=[0,1,2,3,4,5,6];
const phosTicksF=[0,2,4,6];
const silTicks=[0,20,40,60,80,100,120];
const seriesColors=['#FFCC00','#FF9933','#FF6633','#CC3300','#B3B3B3'];
const seriesNames=['0-20-dbar','20-50-dbar','50-150-dbar','gt150-dbar','qc3'];

const panels=[
 {id:'a',col:0,row:0,xt:oxyTicks,yt:winklerTicks,xl:'CTD oxygen',yl:'Winkler oxygen',s:[aYellow.concat(aYellowDense),aOrange,aRed.concat(aRedDense),aDark,aGray]},
 {id:'b',col:1,row:0,xt:oxyTicks,yt:ammTicks,xl:'CTD oxygen',yl:'Ammonium',s:[bYellow.concat(bYellowDense),bOrange,bRed.concat(bRedDense),bDark,bGray]},
 {id:'c',col:0,row:1,xt:oxyTicks,yt:nitrateTicks,xl:'CTD oxygen',yl:'Nitrate',s:[cYellow.concat(cYellowDense),cOrange,cRed.concat(cRedDense),cDark,cGray]},
 {id:'d',col:1,row:1,xt:oxyTicks,yt:nitriteTicks,xl:'CTD oxygen',yl:'Nitrite',s:[dYellow.concat(dYellowDense),dOrange,dRed.concat(dRedDense),dDark,dGray]},
 {id:'e',col:0,row:2,xt:oxyTicks,yt:phosTicksE,xl:'CTD oxygen',yl:'Phosphate',s:[eYellow.concat(eYellowDense),eOrange,eRed.concat(eRedDense),eDark,eGray]},
 {id:'f',col:1,row:2,xt:nitTicks,yt:phosTicksF,xl:'Nitrate',yl:'Phosphate',s:[fYellow.concat(fYellowDense),fOrange,fRed.concat(fRedDense),fDark,fGray]},
 {id:'g',col:0,row:3,xt:oxyTicks,yt:silTicks,xl:'CTD oxygen',yl:'Silicate',s:[gYellow.concat(gYellowDense),gOrange,gRed.concat(gRedDense),gDark,gGray]},
 {id:'h',col:1,row:3,xt:nitTicks,yt:silTicks,xl:'Nitrate',yl:'Silicate',s:[hYellow.concat(hYellowDense),hOrange,hRed.concat(hRedDense),hDark,hGray]}
];

const NS='http://www.w3.org/2000/svg';
const svg=document.getElementById('chart');
const colX=[182,1206], W=807, rowTop=[41,742,1443,2152], H=540;
function mk(tag,attrs,parent){const e=document.createElementNS(NS,tag);for(const k in attrs)e.setAttribute(k,attrs[k]);parent.appendChild(e);return e;}
function fmt(v){return String(v);}
function addTitle(parent,x,y,label,rotate){
  const t=mk('text',{x:x,y:y,'font-size':46,'text-anchor':'middle'},parent);
  if(rotate)t.setAttribute('transform','rotate(-90 '+x+' '+y+')');
  t.appendChild(document.createTextNode(label+' (\u00b5mol kg'));
  const s=mk('tspan',{dy:-16,'font-size':31},t);s.textContent='-1';
  const c=mk('tspan',{dy:16,'font-size':46},t);c.textContent=')';
  return t;
}
panels.forEach(p=>{
  const x0=colX[p.col], x1=x0+W, top=rowTop[p.row], yb=top+H;
  const xmax=p.xt[p.xt.length-1], ymax=p.yt[p.yt.length-1];
  const sx=v=>x0+v/xmax*W, sy=v=>yb-v/ymax*H;
  const g=mk('g',{},svg);
  
  
  const grid=mk('g',{stroke:'#c8c8c8','stroke-width':2.5},g);
  
  
  p.xt.forEach(v=>{if(v>0&&v<xmax){const l=mk('line',{x1:sx(v),x2:sx(v),y1:top,y2:yb},grid);}});
  p.yt.forEach(v=>{if(v<ymax){const l=mk('line',{x1:x0,x2:x1,y1:sy(v)-(v===0?4:0),y2:sy(v)-(v===0?4:0)},grid);}});
  const pts=mk('g',{},g);
  
  
  p.s.forEach((arr,si)=>{
    const sg=mk('g',{fill:seriesColors[si]},pts);
    
    
    arr.forEach(d=>{
      const c=mk('circle',{cx:sx(d[0]).toFixed(1),cy:sy(d[1]).toFixed(1),r:si===4?7.5:11.5},sg);
      
      
    });
  });
  const ax=mk('g',{stroke:'#000','stroke-width':5,'stroke-linecap':'square'},g);
  
  
  mk('line',{x1:x0,y1:top,x2:x0,y2:yb},ax);
  mk('line',{x1:x1,y1:top,x2:x1,y2:yb},ax);
  mk('line',{x1:x0,y1:top,x2:x1,y2:top},ax);
  mk('line',{x1:x0,y1:yb,x2:x1,y2:yb},ax);
  p.xt.forEach(v=>{mk('line',{x1:sx(v),x2:sx(v),y1:yb,y2:yb+22},ax);mk('line',{x1:sx(v),x2:sx(v),y1:top-22,y2:top},ax);
    const t=mk('text',{x:sx(v),y:yb+68,'font-size':38,'text-anchor':'middle'},g);
    
    
    t.textContent=fmt(v);});
  p.yt.forEach(v=>{mk('line',{x1:x0-22,x2:x0,y1:sy(v),y2:sy(v)},ax);mk('line',{x1:x1,x2:x1+22,y1:sy(v),y2:sy(v)},ax);
    const t=mk('text',{x:x0-29,y:sy(v)+13,'font-size':38,'text-anchor':'end'},g);
    
    
    t.textContent=fmt(v);});
  const lab=mk('text',{x:x0+18,y:top+62,'font-size':44},g);
  
  
  lab.textContent='('+p.id+')';
  const xt=addTitle(g,(x0+x1)/2,yb+114,p.xl,false);
  
  
  const yt=addTitle(g,x0-114,top+H/2,p.yl,true);
  
  
});
svg.appendChild(document.getElementById('legend'));
</script>
</body></html>
